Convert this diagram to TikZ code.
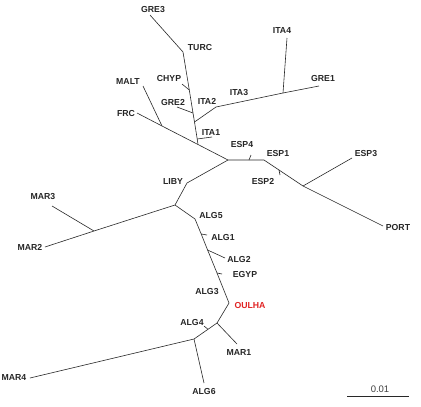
\documentclass[tikz,border=0pt]{standalone}
\usepackage{fontspec}
\setmainfont{Liberation Sans}
\definecolor{oulred}{RGB}{225,35,35}
\definecolor{linegray}{RGB}{40,40,40}
\begin{document}
\begin{tikzpicture}[x=1pt,y=-1pt,
  br/.style={draw=linegray,line width=0.6pt},
  lab/.style={font=\fontsize{8.7}{9}\selectfont\bfseries,inner sep=0pt,text=black!85}]
\useasboundingbox[fill=white] (0,0) rectangle (421,407);
% internal coordinates
\coordinate (r) at (228,160);
\coordinate (e4) at (249,160);
\coordinate (e4t) at (251,155);
\coordinate (e1) at (264,160);
\coordinate (e2) at (279,170);
\coordinate (e2t) at (280,175);
\coordinate (e3j) at (303,186);
\coordinate (lESP3) at (352,158);
\coordinate (lPORT) at (383,226);
\coordinate (lFRC) at (137,113);
\coordinate (jm) at (162,126);
\coordinate (lMALT) at (143,86);
\coordinate (j1) at (198,144.5);
\coordinate (ja) at (197.2,139);
\coordinate (lITA1) at (212,137);
\coordinate (jb) at (194.5,122);
\coordinate (jg) at (193,113);
\coordinate (lGRE2) at (177,107);
\coordinate (jc) at (189.3,90);
\coordinate (lCHYP) at (182,84);
\coordinate (jt) at (183,52);
\coordinate (lGRE3) at (150,15);
\coordinate (j2a) at (216,107);
\coordinate (j4) at (283,93);
\coordinate (lITA4) at (287,38);
\coordinate (lGRE1) at (319,86);
\coordinate (jly) at (187,183);
\coordinate (jl) at (175,205);
\coordinate (mj) at (94,231);
\coordinate (lMAR2) at (45,247);
\coordinate (lMAR3) at (52,206);
\coordinate (ja5) at (195,219);
\coordinate (ja1) at (201.2,234);
\coordinate (lALG1) at (207,235);
\coordinate (ja2) at (207.6,250);
\coordinate (lALG2) at (225,258);
\coordinate (jeg) at (217,273);
\coordinate (lEGYP) at (222,274);
\coordinate (jo) at (229,303);
\coordinate (jq) at (217,323);
\coordinate (lMAR1) at (237,344);
\coordinate (ja4) at (208,329.3);
\coordinate (lALG4) at (204,326);
\coordinate (jr) at (194,339);
\coordinate (lMAR4) at (30,378);
\coordinate (lALG6) at (204,383);
\coordinate (sb1) at (347,396);
\coordinate (sb2) at (409,396);
% branches
\draw[br] (lFRC) -- (jm) -- (j1) -- (r) -- (e4) -- (e1) -- (e2) -- (e3j) -- (lPORT);
\draw[br] (e4) -- (e4t);
\draw[br] (e2) -- (e2t);
\draw[br] (e3j) -- (lESP3);
\draw[br] (jm) -- (lMALT);
\draw[br] (j1) -- (ja) -- (jb) -- (jg) -- (jc) -- (jt) -- (lGRE3);
\draw[br] (ja) -- (lITA1);
\draw[br] (jg) -- (lGRE2);
\draw[br] (jc) -- (lCHYP);
\draw[br] (jb) -- (j2a) -- (j4) -- (lGRE1);
\draw[br] (j4) -- (lITA4);
\draw[br] (r) -- (jly) -- (jl) -- (mj) -- (lMAR2);
\draw[br] (mj) -- (lMAR3);
\draw[br] (jl) -- (ja5) -- (ja1) -- (ja2) -- (jeg) -- (jo) -- (jq) -- (ja4) -- (jr) -- (lMAR4);
\draw[br] (ja1) -- (lALG1);
\draw[br] (ja2) -- (lALG2);
\draw[br] (jeg) -- (lEGYP);
\draw[br] (jq) -- (lMAR1);
\draw[br] (ja4) -- (lALG4);
\draw[br] (jr) -- (lALG6);
\draw[br] (sb1) -- (sb2);
% labels
\node[lab] (tGRE3) at (153,10) {GRE3};
\node[lab] (tTURC) at (200,48) {TURC};
\node[lab] (tCHYP) at (169,79) {CHYP};
\node[lab] (tMALT) at (128,82) {MALT};
\node[lab] (tGRE2) at (173,103) {GRE2};
\node[lab] (tITA2) at (207,101) {ITA2};
\node[lab] (tITA3) at (239,93) {ITA3};
\node[lab] (tITA4) at (282,31) {ITA4};
\node[lab] (tGRE1) at (323,79) {GRE1};
\node[lab] (tFRC) at (126,114) {FRC};
\node[lab] (tITA1) at (211,133) {ITA1};
\node[lab] (tESP4) at (242,145) {ESP4};
\node[lab] (tESP1) at (278,154) {ESP1};
\node[lab] (tESP2) at (263,182) {ESP2};
\node[lab] (tESP3) at (366,154) {ESP3};
\node[lab] (tPORT) at (398,228) {PORT};
\node[lab] (tLIBY) at (173,182) {LIBY};
\node[lab] (tMAR3) at (43,197) {MAR3};
\node[lab] (tMAR2) at (30,247) {MAR2};
\node[lab] (tALG5) at (211,216) {ALG5};
\node[lab] (tALG1) at (223,238) {ALG1};
\node[lab] (tALG2) at (239,260) {ALG2};
\node[lab] (tEGYP) at (245,275) {EGYP};
\node[lab] (tALG3) at (207,292) {ALG3};
\node[lab,text=oulred] (tOULHA) at (250,306) {OULHA};
\node[lab] (tALG4) at (192,323) {ALG4};
\node[lab] (tMAR1) at (239,353) {MAR1};
\node[lab] (tMAR4) at (14,378) {MAR4};
\node[lab] (tALG6) at (204,392) {ALG6};
\node[font=\fontsize{9.5}{10}\selectfont,inner sep=0pt,text=black!75] (tscale) at (380,389) {0.01};
\end{tikzpicture}
\end{document}
